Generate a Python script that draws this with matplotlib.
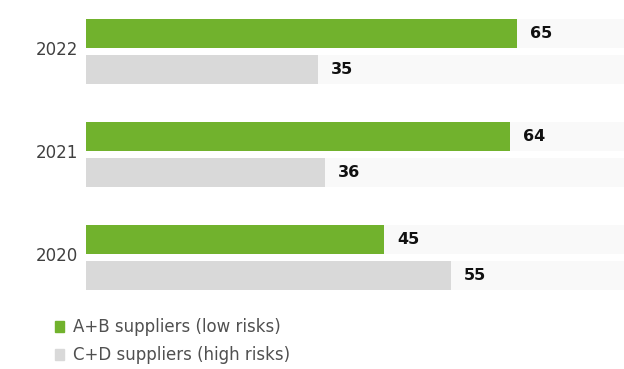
import numpy as np
import matplotlib
matplotlib.use("Agg")
import matplotlib.pyplot as plt
from matplotlib.patches import Patch

years = ["2022", "2021", "2020"]
low_risk = [65, 64, 45]    # A+B suppliers
high_risk = [35, 36, 55]   # C+D suppliers
series_labels = ["A+B suppliers (low risks)", "C+D suppliers (high risks)"]

GREEN = "#71b22d"
GRAY = "#d9d9d9"
TRACK = "#f9f9f9"

plt.rcParams["font.family"] = ["DejaVu Sans"]

fig = plt.figure(figsize=(6.24, 3.69), dpi=100)
ax = fig.add_axes([86 / 624, 60 / 369, 538 / 624, 309 / 369])

y = np.arange(len(years))
h = 29 / 103
off = 18 / 103

# background tracks (full 100%)
ax.barh(y - off, [100] * len(years), height=h, color=TRACK, zorder=1)
ax.barh(y + off, [100] * len(years), height=h, color=TRACK, zorder=1)

b1 = ax.barh(y - off, low_risk, height=h, color=GREEN, zorder=2)
b2 = ax.barh(y + off, high_risk, height=h, color=GRAY, zorder=2)

for bars, vals in ((b1, low_risk), (b2, high_risk)):
    for rect, v in zip(bars, vals):
        ax.annotate(str(v), (rect.get_width(), rect.get_y() + rect.get_height() / 2),
                    xytext=(13, 0), textcoords="offset pixels",
                    va="center", ha="left", fontsize=11.5, fontweight="bold",
                    color="#111111", zorder=3)

ax.set_xlim(0, 538 / 6.63)
ax.set_ylim(2.5, -0.5)
ax.set_yticks(y - 0.03)
ax.set_yticklabels(years, fontsize=12, color="#404040")
ax.tick_params(axis="y", length=0, pad=6)
ax.set_xticks([])
for s in ax.spines.values():
    s.set_visible(False)

handles = [Patch(color=GREEN), Patch(color=GRAY)]
fig.legend(handles, series_labels, loc="upper left",
           bbox_to_anchor=(55 / 624, 1 - 318 / 369), frameon=False,
           fontsize=12, handlelength=0.55, handleheight=0.65,
           handletextpad=0.55, labelspacing=0.6, labelcolor="#505050",
           borderaxespad=0, borderpad=0)

fig.savefig("out.png", dpi=100)
